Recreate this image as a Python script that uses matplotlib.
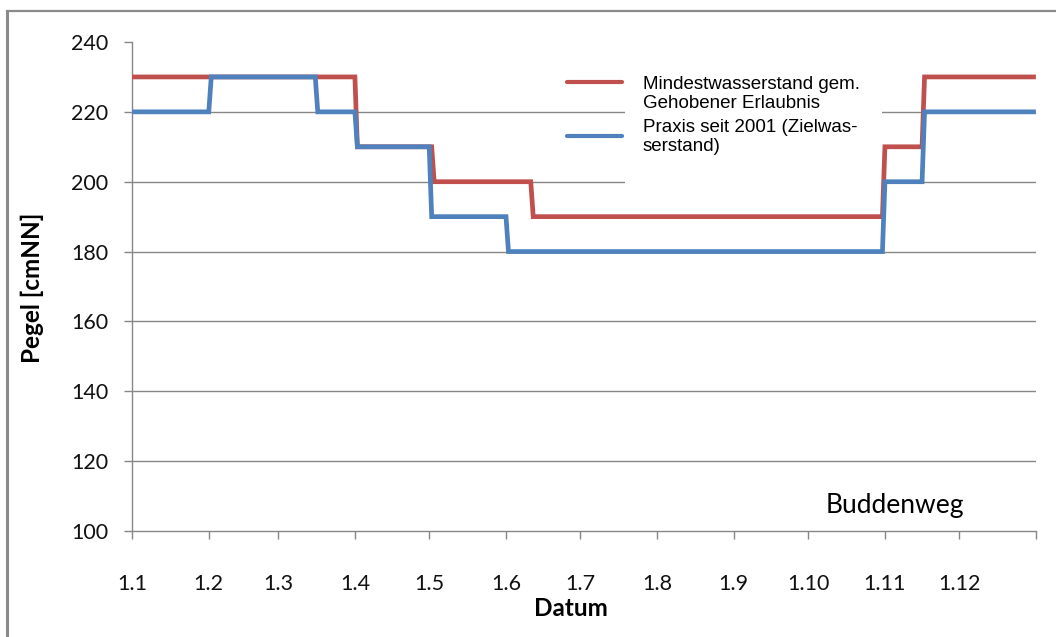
import pandas as pd
import matplotlib
matplotlib.use("Agg")
import matplotlib.pyplot as plt
from matplotlib.lines import Line2D
from matplotlib.patches import Rectangle

# Pegel Buddenweg: Mindestwasserstand vs. Zielwasserstand (Praxis seit 2001)
red_dates = ["2001-01-01", "2001-04-01", "2001-04-02", "2001-05-02", "2001-05-03",
             "2001-06-11", "2001-06-12", "2001-10-31", "2001-11-01", "2001-11-16",
             "2001-11-17", "2001-12-31"]
red_values = [230, 230, 210, 210, 200, 200, 190, 190, 210, 210, 230, 230]

blue_dates = ["2001-01-01", "2001-02-01", "2001-02-02", "2001-03-16", "2001-03-17",
              "2001-04-01", "2001-04-02", "2001-05-01", "2001-05-02", "2001-06-01",
              "2001-06-02", "2001-10-31", "2001-11-01", "2001-11-16", "2001-11-17",
              "2001-12-31"]
blue_values = [220, 220, 230, 230, 220, 220, 210, 210, 190, 190, 180, 180, 200, 200,
               220, 220]

red_label = "Mindestwasserstand gem.\nGehobener Erlaubnis"
blue_label = "Praxis seit 2001 (Zielwas-\nserstand)"

month_starts = pd.date_range("2001-01-01", "2002-01-01", freq="MS")
month_labels = [f"{d.day}.{d.month}" for d in month_starts[:-1]] + [""]

RED = "#C0504D"
BLUE = "#4F81BD"
GRID = "#878787"

W, H = 1056, 637
fig = plt.figure(figsize=(W / 100, H / 100), dpi=100)
ax = fig.add_axes([132 / W, 1 - 531 / H, (1036 - 132) / W, (531 - 42) / H])

def px(x, y):
    # pixel position (from top-left) -> figure fraction
    return x / W, 1 - y / H

ax.plot(pd.to_datetime(red_dates), red_values, color=RED, lw=3.4, zorder=3,
        solid_joinstyle="miter")
ax.plot(pd.to_datetime(blue_dates), blue_values, color=BLUE, lw=3.4, zorder=4,
        solid_joinstyle="miter")

ax.set_xlim(month_starts[0], month_starts[-1])
ax.set_ylim(100, 240)
ax.set_xticks(month_starts)
ax.set_xticklabels(month_labels)
ax.set_yticks(range(100, 241, 20))

ax.grid(axis="y", color=GRID, lw=1)
ax.set_axisbelow(True)
ax.get_ygridlines()[-1].set_visible(False)
ax.get_ygridlines()[0].set_visible(False)

for side in ["top", "right"]:
    ax.spines[side].set_visible(False)
for side in ["left", "bottom"]:
    ax.spines[side].set_color(GRID)
    ax.spines[side].set_linewidth(1)

ax.tick_params(axis="both", colors=GRID, length=6, width=1, labelcolor="#111111",
               labelsize=15.5)
ax.tick_params(axis="y", pad=11)
ax.tick_params(axis="x", pad=25)
for lab in ax.get_xticklabels() + ax.get_yticklabels():
    lab.set_family("Lato")

# white area behind the legend text
ax.add_patch(Rectangle(px(625, 195), (882 - 625) / W, (195 - 55) / H,
                       transform=fig.transFigure, facecolor="white",
                       edgecolor="none", zorder=1))

# legend
fig.add_artist(Line2D([567 / W, 622 / W], [px(0, 82)[1]] * 2, color=RED, lw=3,
                      solid_capstyle="round"))
fig.add_artist(Line2D([567 / W, 622 / W], [px(0, 136)[1]] * 2, color=BLUE, lw=3,
                      solid_capstyle="round"))
fig.text(*px(643, 76), red_label, family="Liberation Sans", fontsize=13.5,
         va="top", ha="left", linespacing=1.15)
fig.text(*px(643, 119), blue_label, family="Liberation Sans", fontsize=13.5,
         va="top", ha="left", linespacing=1.15)

fig.text(*px(895, 506), "Buddenweg", family="Lato", fontsize=19,
         ha="center", va="center")

fig.text(*px(32, 288), "Pegel [cmNN]", family="Lato", fontweight="bold",
         fontsize=17.5, rotation=90, ha="center", va="center")
fig.text(*px(571, 609), "Datum", family="Lato", fontweight="bold",
         fontsize=17.5, ha="center", va="center")

# chart frame (left and top edges)
fig.add_artist(Line2D([7 / W, 7 / W], [0, px(0, 11)[1]], color="#8a8a8a", lw=2.2))
fig.add_artist(Line2D([7 / W, 1], [px(0, 11)[1]] * 2, color="#8a8a8a", lw=1.6))

fig.savefig("out.png", dpi=100)
